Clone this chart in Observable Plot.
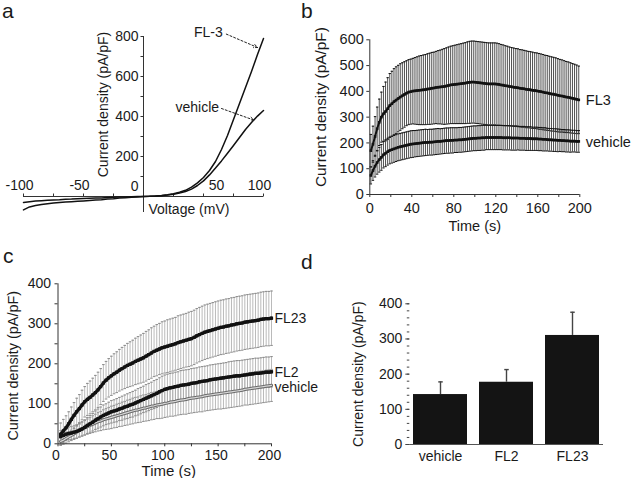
<!DOCTYPE html>
<html><head><meta charset="utf-8">
<script src="https://cdn.jsdelivr.net/npm/d3@7"></script>
<script src="https://cdn.jsdelivr.net/npm/@observablehq/plot@0.6"></script>
<style>
body{margin:0;background:#fff;}
#fig{position:relative;width:631px;height:478px;overflow:hidden;font-family:"Liberation Sans",Arial,Helvetica,sans-serif;color:#1a1a1a;background:#fff}
.panel{position:absolute}
.letter{position:absolute;font-size:21px;line-height:21px;color:#1a1a1a}
</style></head>
<body><div id="fig"></div>
<script>
// ---------- Panel a: I-V curves ----------
const aVoltage = [-100,-95,-90,-85,-80,-75,-70,-65,-60,-55,-50,-45,-40,-35,-30,-25,-20,-15,-10,-5,0,5,10,15,20,25,30,35,40,45,50,55,60,65,70,75,80,85,90,95,100];
const aVehicle = [-30,-26,-23,-21,-19,-17,-16,-14,-13,-11,-10,-9,-8,-7,-5,-4,-3,-2,-1,0,0,1,2,4,7,11,17,25,37,55,78,108,142,178,216,255,295,335,370,402,430];
const aFL3 = [-67,-52,-45,-40,-36,-33,-30,-28,-26,-24,-22,-20,-18,-16,-13,-11,-8,-6,-4,-2,0,1,3,5,9,14,21,31,47,68,95,130,175,235,305,385,465,545,625,710,790];
const aXTicks = [-100,-75,-50,-25,25,50,75,100];
const aYTicks = [100,200,300,400,500,600,700,800];
const aYLabels = [200,400,600,800];
const aXLabels = ["-100","-50","100"];
const aXLabelVals = [-100,-50,100];
const aLabels = ["FL-3","vehicle"];
const aLabelV = [66,63];
const aLabelI = [822,447];
const aArrowFrom = [[69,812],[65,440]];
const aArrowTo = [[95,745],[92,382]];

// ---------- Panel b: time course ----------
const bTime = [1,3,5,7,9,11,13,15,17,19,21,23,25,27,29,31,33,35,37,39,41,43,45,47,49,51,53,55,57,59,61,63,65,67,69,71,73,75,77,79,81,83,85,87,89,91,93,95,97,99,101,103,105,107,109,111,113,115,117,119,121,123,125,127,129,131,133,135,137,139,141,143,145,147,149,151,153,155,157,159,161,163,165,167,169,171,173,175,177,179,181,183,185,187,189,191,193,195,197,199];
const bFL3 = [170,195,225,255,280,300,313,322,333,345, 352,360,366,372,378,383,388,393,397,399, 401,402,403,404,405,406,407,409,410,412, 413,415,416,417,418,419,421,423,425,426, 427,428,429,430,431,432,434,435,436,436, 435,434,433,432,431,430,429,429,429,429, 428,427,425,424,422,421,419,418,416,415, 414,412,411,410,408,407,406,404,403,402, 400,399,397,395,394,392,390,389,387,385, 383,382,380,378,377,375,373,371,369,367];
const bFL3Err = [63,70,77,84,90,97,106,114,120,124, 126,128,129,129,129,128,127,126,126,126, 127,129,131,133,134,135,136,137,138,139, 139,140,142,143,145,147,148,149,150,151, 152,153,154,155,156,157,158,159,159,159, 159,159,159,159,159,159,159,159,159,159, 159,158,157,156,155,154,153,152,152,151, 151,150,150,149,149,148,148,148,147,147, 147,146,146,145,145,144,144,143,143,142, 141,140,139,138,137,136,135,134,133,131];
const bVehicle = [74,93,110,124,135,144,154,160,166,171, 174,177,180,183,185,187,189,191,193,195, 196,197,198,199,200,201,202,202,203,203, 204,205,206,206,207,208,209,209,210,210, 211,211,212,212,213,214,215,216,217,218, 218,219,219,220,220,221,221,221,221,221, 221,221,221,220,220,220,220,219,219,219, 219,218,218,218,217,217,217,216,216,216, 215,215,214,214,213,212,212,211,211,210, 210,209,209,208,208,207,207,207,206,206];
const bVehicleErr = [33,38,42,45,48,50,51,52,52,52, 52,52,52,52,52,52,52,52,52,52, 52,51,51,51,51,51,51,50,50,50, 50,50,50,49,49,49,49,49,49,49, 48,48,48,48,48,48,48,48,48,48, 48,48,48,48,48,47,47,47,47,47, 47,47,47,47,47,47,47,47,47,47, 46,46,46,46,46,46,46,45,45,45, 45,45,45,45,44,44,44,44,44,44, 43,43,43,43,43,43,42,42,42,42];
const bXTicks = [0,20,40,60,80,100,120,140,160,180,200];
const bYTicks = [0,100,200,300,400,500,600];
const bLabels = ["FL3","vehicle"];
const bLabelY = [367,203];

// ---------- Panel c: time course ----------
const cTime = [2.5,5,7.5,10,12.5,15,17.5,20,22.5,25,27.5,30,32.5,35,37.5,40,42.5,45,47.5,50,52.5,55,57.5,60,62.5,65,67.5,70,72.5,75,77.5,80,82.5,85,87.5,90,92.5,95,97.5,100,102.5,105,107.5,110,112.5,115,117.5,120,122.5,125,127.5,130,132.5,135,137.5,140,142.5,145,147.5,150,152.5,155,157.5,160,162.5,165,167.5,170,172.5,175,177.5,180,182.5,185,187.5,190,192.5,195,197.5,200];
const cFL23 = [24,32,40,50,61,71,80,88,97,105, 111,116,122,128,135,143,152,159,165,170, 175,179,184,188,192,196,199,202,206,209, 212,215,219,223,227,231,234,237,240,242, 244,246,248,250,253,255,257,259,261,263, 266,270,273,276,279,281,283,285,287,289, 291,292,294,295,297,298,300,301,302,304, 305,306,307,308,309,311,312,313,313,314];
const cFL23Err = [28,29,30,30,31,32,34,35,37,38, 40,41,42,43,44,45,46,47,48,49, 50,51,52,53,54,55,56,57,58,59, 60,61,62,62,63,63,64,64,65,65, 66,66,66,66,67,67,67,67,68,68, 68,68,68,68,68,68,68,68,68,68, 68,68,68,68,68,68,68,68,68,68, 68,68,68,68,68,68,68,68,68,68];
const cFL2 = [18,21,24,26,27,29,31,34,37,41, 46,50,54,59,63,67,71,74,77,80, 82,84,87,89,92,94,97,99,102,105, 108,111,114,117,120,123,126,130,133,136, 138,140,141,143,144,146,147,148,149,151, 152,153,155,156,157,158,160,161,162,163, 164,165,166,167,168,169,170,170,171,172, 173,174,175,176,176,177,178,179,179,180];
const cFL2Err = [15,15,15,16,16,16,17,17,18,19, 20,21,22,23,24,25,26,26,27,28, 28,29,29,30,30,31,31,32,32,33, 33,33,34,34,34,35,35,35,36,36, 36,36,36,36,36,37,37,37,37,37, 37,37,37,37,37,37,37,37,37,37, 37,37,37,38,38,38,38,38,38,38, 38,38,38,38,38,38,38,38,38,38];
const cVehicle = [6,9,13,17,21,25,29,33,37,40, 43,46,49,52,55,57,60,62,64,66, 68,70,72,74,76,78,80,82,84,85, 87,89,90,92,94,95,97,98,99,101, 102,104,105,106,108,109,110,111,113,114, 115,116,117,118,120,121,122,123,124,125, 126,127,128,129,130,131,132,133,134,136, 137,138,139,140,141,142,143,144,145,146];
const cVehicleErr = [8,10,11,12,13,14,15,16,17,18, 19,20,21,22,23,24,25,26,27,28, 28,29,29,30,30,31,31,32,32,32, 33,33,33,34,34,34,34,35,35,35, 35,35,36,36,36,36,36,37,37,37, 37,37,37,38,38,38,38,38,38,38, 39,39,39,39,39,39,39,39,39,39, 40,40,40,40,40,40,40,40,40,40];
const cXTicks = [0,25,50,75,100,125,150,175,200];
const cXLabels = [0,50,100,150,200];
const cYTicks = [0,50,100,150,200,250,300,350,400];
const cYLabels = [0,100,200,300,400];
const cLabels = ["FL23","FL2","vehicle"];
const cLabelY = [312,179,141];

// ---------- Panel d: bar chart ----------
const dCats = ["vehicle","FL2","FL23"];
const dMeans = [142,177,310];
const dSem = [36,36,66];
const dMinorTicks = [0,20,40,60,80,100,120,140,160,180,200,220,240,260,280,300,320,340,360,380,400];
const dMajorTicks = [0,100,200,300,400];
const dSignif = ["*"];

// ---------- helpers ----------
const FONT = '"Liberation Sans", Arial, Helvetica, sans-serif';
const INK = "#1a1a1a";
const sty = s => ({fontFamily: FONT, fontSize: s + "px", background: "transparent", color: INK, overflow: "visible"});
const hcap = w => ({draw(ctx){ ctx.moveTo(-w/2, 0); ctx.lineTo(w/2, 0); }});
const vUp = {draw(ctx){ ctx.moveTo(0, 0); ctx.lineTo(0, -3); }};
const hLeft = {draw(ctx){ ctx.moveTo(0, 0); ctx.lineTo(-3, 0); }};
const YLABEL = "Current density (pA/pF)";

function errBars(T, M, E, stroke, sw, capStroke, capW) {
  return [
    Plot.ruleX(T, {x: d => d, y1: (d, i) => M[i] - E[i], y2: (d, i) => M[i] + E[i], stroke, strokeWidth: sw}),
    Plot.dot(T, {x: d => d, y: (d, i) => M[i] + E[i], symbol: hcap(capW), stroke: capStroke, fill: "none", strokeWidth: 1}),
    Plot.dot(T, {x: d => d, y: (d, i) => M[i] - E[i], symbol: hcap(capW), stroke: capStroke, fill: "none", strokeWidth: 1})
  ];
}
function yTitle(size, dx, dy) {
  return Plot.text([YLABEL], {frameAnchor: "left", text: d => d, dx, dy, rotate: -90, textAnchor: "middle", lineAnchor: "middle", fontSize: size, fill: INK});
}
function xTitle(txt, size, dx, dy) {
  return Plot.text([txt], {frameAnchor: "bottom", text: d => d, dx, dy, textAnchor: "middle", lineAnchor: "middle", fontSize: size, fill: INK});
}

const fig = document.getElementById("fig");
function place(el, left, top, w, h) {
  const d = document.createElement("div");
  d.className = "panel";
  d.style.left = left + "px"; d.style.top = top + "px";
  d.style.width = w + "px"; d.style.height = h + "px";
  d.appendChild(el); fig.appendChild(d);
}
function letter(t, left, top) {
  const d = document.createElement("div");
  d.className = "letter"; d.textContent = t;
  d.style.left = left + "px"; d.style.top = top + "px";
  fig.appendChild(d);
}

// ---------- Panel a ----------
const plotA = Plot.plot({
  width: 300, height: 230,
  marginLeft: 23, marginRight: 37, marginTop: 36, marginBottom: 18,
  style: sty(14),
  x: {domain: [-100, 100], axis: null},
  y: {domain: [-80, 800], axis: null},
  marks: [
    Plot.ruleY([0], {x1: -100, x2: 100, stroke: "#333", strokeWidth: 1}),
    Plot.ruleX([0], {y1: -80, y2: 800, stroke: "#333", strokeWidth: 1}),
    Plot.dot(aXTicks, {x: d => d, y: 0, symbol: vUp, stroke: "#333", fill: "none", strokeWidth: 1}),
    Plot.dot(aYTicks, {x: 0, y: d => d, symbol: hLeft, stroke: "#333", fill: "none", strokeWidth: 1}),
    Plot.line(aVoltage, {x: d => d, y: (d, i) => aVehicle[i], stroke: "#111", strokeWidth: 1.5}),
    Plot.line(aVoltage, {x: d => d, y: (d, i) => aFL3[i], stroke: "#111", strokeWidth: 1.5}),
    Plot.text(aYLabels, {x: 0, y: d => d, text: d => String(d), dx: -5, textAnchor: "end", fill: INK}),
    Plot.text(["0"], {x: 0, y: 0, text: d => d, dx: -5, dy: -10, textAnchor: "end", fill: INK}),
    Plot.text(aXLabels, {x: (d, i) => aXLabelVals[i], y: 0, text: d => d, dx: -4, dy: -11, fill: INK}),
    Plot.text(["50"], {x: 50, y: 0, text: d => d, dx: 13, dy: -11, fill: INK}),
    Plot.text(["Voltage (mV)"], {x: 0, y: 0, text: d => d, dx: 5, dy: 13, textAnchor: "start", fill: INK}),
    Plot.text([YLABEL], {x: 0, y: 460, text: d => d, dx: -40, rotate: -90, fill: INK}),
    Plot.text(aLabels, {x: (d, i) => aLabelV[i], y: (d, i) => aLabelI[i], text: d => d, textAnchor: "end", fill: INK}),
    Plot.arrow(aLabels, {x1: (d, i) => aArrowFrom[i][0], y1: (d, i) => aArrowFrom[i][1], x2: (d, i) => aArrowTo[i][0], y2: (d, i) => aArrowTo[i][1], stroke: "#222", strokeWidth: 1, strokeDasharray: "2,2", headLength: 6, headAngle: 50})
  ]
});
place(plotA, 0, 0, 300, 230);

// ---------- Panel b ----------
const plotB = Plot.plot({
  width: 331, height: 240,
  marginLeft: 69.3, marginRight: 51.7, marginTop: 39.3, marginBottom: 46,
  style: sty(14.5),
  x: {domain: [0, 200]},
  y: {domain: [0, 600]},
  marks: [
    ...errBars(bTime, bFL3, bFL3Err, "#3a3a3a", 0.9, "#111", 2.4),
    ...errBars(bTime, bVehicle, bVehicleErr, "#3a3a3a", 0.9, "#111", 2.4),
    Plot.line(bTime, {x: d => d, y: (d, i) => bFL3[i], stroke: "#111", strokeWidth: 2}),
    Plot.dot(bTime, {x: d => d, y: (d, i) => bFL3[i], symbol: "square", r: 1.5, fill: "#111"}),
    Plot.line(bTime, {x: d => d, y: (d, i) => bVehicle[i], stroke: "#111", strokeWidth: 2}),
    Plot.dot(bTime, {x: d => d, y: (d, i) => bVehicle[i], symbol: "square", r: 1.5, fill: "#111"}),
    Plot.ruleY([0], {stroke: "#333"}),
    Plot.ruleX([0], {stroke: "#333"}),
    Plot.axisX({ticks: bXTicks, tickSize: 3, tickPadding: 5, tickFormat: d => (d % 40 === 0 ? String(d) : ""), label: null, stroke: "#333"}),
    Plot.axisY({ticks: bYTicks, tickSize: 3, tickPadding: 3, tickFormat: d => String(d), label: null, stroke: "#333"}),
    xTitle("Time (s)", 14.5, 0, 32),
    yTitle(15.4, -49, -10),
    Plot.text(bLabels, {x: 200, y: (d, i) => bLabelY[i], text: d => d, dx: 6, textAnchor: "start", fill: INK})
  ]
});
place(plotB, 300, 0, 331, 240);

// ---------- Panel c ----------
const plotC = Plot.plot({
  width: 300, height: 238,
  marginLeft: 57.5, marginRight: 29, marginTop: 43.3, marginBottom: 34.7,
  style: sty(14),
  x: {domain: [0, 200]},
  y: {domain: [0, 400]},
  marks: [
    ...errBars(cTime, cVehicle, cVehicleErr, "#a8a8a8", 0.8, "#8a8a8a", 2.6),
    ...errBars(cTime, cFL2, cFL2Err, "#a8a8a8", 0.8, "#8a8a8a", 2.6),
    ...errBars(cTime, cFL23, cFL23Err, "#a8a8a8", 0.8, "#8a8a8a", 2.6),
    Plot.line(cTime, {x: d => d, y: (d, i) => cVehicle[i], stroke: "#6a6a6a", strokeWidth: 3.2}),
    Plot.line(cTime, {x: d => d, y: (d, i) => cVehicle[i], stroke: "#d8d8d8", strokeWidth: 1.2}),
    Plot.line(cTime, {x: d => d, y: (d, i) => cFL2[i], stroke: "#111", strokeWidth: 3.2}),
    Plot.dot(cTime, {x: d => d, y: (d, i) => cFL2[i], symbol: "square", r: 1.8, fill: "#111"}),
    Plot.line(cTime, {x: d => d, y: (d, i) => cFL23[i], stroke: "#111", strokeWidth: 3.2}),
    Plot.dot(cTime, {x: d => d, y: (d, i) => cFL23[i], symbol: "square", r: 1.8, fill: "#111"}),
    Plot.ruleY([0], {stroke: "#333"}),
    Plot.ruleX([0], {stroke: "#333"}),
    Plot.axisX({ticks: cXTicks, tickSize: 3, tickFormat: () => "", label: null, stroke: "#333"}),
    Plot.axisX({ticks: cXLabels, tickSize: 0, tickPadding: 6, dx: -2, tickFormat: d => String(d), label: null}),
    Plot.axisY({ticks: cYTicks, tickSize: 3, tickFormat: () => "", label: null, stroke: "#333"}),
    Plot.axisY({ticks: cYLabels, tickSize: 0, tickPadding: 7, tickFormat: d => String(d), label: null}),
    xTitle("Time (s)", 15, 4, 27.5),
    yTitle(14.4, -44.5, 2),
    Plot.text(cLabels, {x: 200, y: (d, i) => cLabelY[i], text: d => d, dx: 3, textAnchor: "start", fill: INK})
  ]
});

// ---------- Panel d ----------
const plotD = Plot.plot({
  width: 331, height: 238,
  marginLeft: 109.3, marginRight: 28, marginTop: 63.3, marginBottom: 34,
  style: sty(14),
  x: {domain: dCats, paddingInner: 0.18, paddingOuter: 0.04},
  y: {domain: [0, 400]},
  marks: [
    Plot.barY(dCats, {x: d => d, y: (d, i) => dMeans[i], fill: "#141414"}),
    Plot.ruleX(dCats, {x: d => d, y1: (d, i) => dMeans[i], y2: (d, i) => dMeans[i] + dSem[i], stroke: "#444", strokeWidth: 1.4}),
    Plot.dot(dCats, {x: d => d, y: (d, i) => dMeans[i] + dSem[i], symbol: hcap(4.5), stroke: "#444", fill: "none", strokeWidth: 1.4}),
    Plot.text(dSignif, {x: "FL23", y: dMeans[2] + dSem[2], text: d => d, dy: -11, fontSize: 13, fill: INK}),
    Plot.ruleY([0], {stroke: "#555"}),
    Plot.axisY({ticks: dMinorTicks, tickSize: 2.5, tickFormat: () => "", label: null, stroke: "#444", line: true}),
    Plot.axisY({ticks: dMajorTicks, tickSize: 4, tickPadding: 3.5, tickFormat: d => String(d), label: null, stroke: "#444"}),
    Plot.axisX({tickSize: 0, tickPadding: 7, label: null}),
    yTitle(14, -51, 0)
  ]
});
place(plotD, 300, 240, 331, 238);
place(plotC, 0, 240, 300, 238);

letter("a", 2, 0);
letter("b", 301, 0);
letter("c", 3, 245);
letter("d", 301, 251);
</script>
</body></html>
